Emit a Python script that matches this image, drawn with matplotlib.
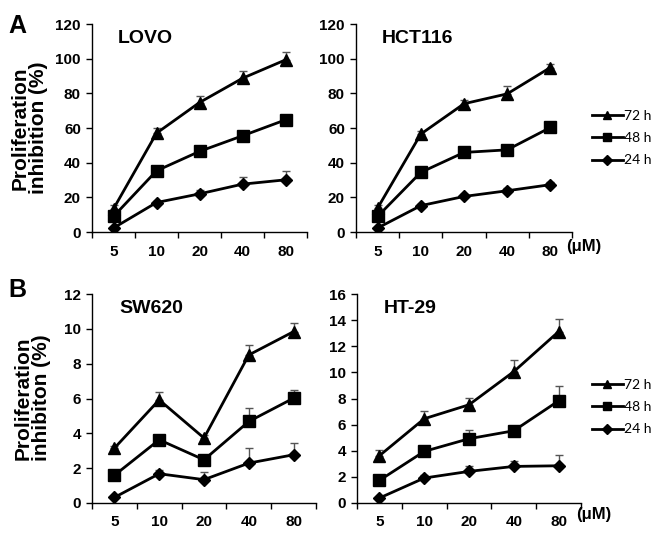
"""
Proliferation inhibition of four colorectal cancer cell lines
after 24, 48 and 72 h treatment.
"""

import numpy as np
import matplotlib.pyplot as plt
from matplotlib.lines import Line2D

plt.rcParams['font.family'] = ['Liberation Sans', 'DejaVu Sans']

doses = ['5', '10', '20', '40', '80']

# LOVO
lovo_72 = [13.4, 57.0, 74.7, 88.7, 99.3]
lovo_72_err = [2.0, 3.0, 3.5, 4.0, 4.5]
lovo_48 = [9.0, 35.3, 46.5, 55.5, 64.7]
lovo_48_err = [1.0, 1.5, 1.5, 1.5, 1.5]
lovo_24 = [2.3, 17.0, 22.0, 27.6, 30.1]
lovo_24_err = [0.5, 1.0, 2.5, 4.0, 5.0]

# HCT116
hct_72 = [13.8, 56.5, 74.0, 79.7, 94.9]
hct_72_err = [2.0, 2.0, 2.0, 4.5, 2.0]
hct_48 = [9.0, 34.4, 45.9, 47.4, 60.3]
hct_48_err = [1.0, 1.0, 1.0, 1.0, 1.0]
hct_24 = [2.3, 15.2, 20.5, 23.8, 27.3]
hct_24_err = [0.5, 1.0, 1.5, 1.5, 1.5]

# SW620
sw_72 = [3.15, 5.92, 3.73, 8.5, 9.84]
sw_72_err = [0.15, 0.45, 0.15, 0.6, 0.5]
sw_48 = [1.59, 3.63, 2.48, 4.68, 6.02]
sw_48_err = [0.1, 0.2, 0.1, 0.8, 0.45]
sw_24 = [0.32, 1.68, 1.34, 2.29, 2.77]
sw_24_err = [0.05, 0.2, 0.45, 0.85, 0.65]

# HT-29
ht_72 = [3.62, 6.45, 7.52, 10.06, 13.12]
ht_72_err = [0.45, 0.6, 0.5, 0.9, 1.0]
ht_48 = [1.73, 3.95, 4.92, 5.53, 7.82]
ht_48_err = [0.1, 0.2, 0.7, 0.2, 1.1]
ht_24 = [0.38, 1.91, 2.42, 2.8, 2.85]
ht_24_err = [0.1, 0.2, 0.4, 0.4, 0.8]

times = ['72 h', '48 h', '24 h']
markers = ['^', 's', 'D']
msizes = [8.5, 8.5, 6.5]


def draw_panel(ax, title, series, errors, ymax, ystep):
    x = np.arange(len(doses)) + 0.5
    for vals, err, mk, ms in zip(series, errors, markers, msizes):
        ax.errorbar(x, vals, yerr=[np.zeros(len(err)), err], fmt='none',
                    ecolor='#555555', elinewidth=1, capsize=3, capthick=1)
        ax.plot(x, vals, color='black', lw=2, marker=mk, ms=ms)
    ax.set_xlim(0, len(doses))
    ax.set_ylim(0, ymax)
    ax.set_xticks(x)
    ax.set_xticklabels(doses)
    ax.set_xticks(np.arange(len(doses) + 1), minor=True)
    ax.tick_params(axis='x', which='major', length=0, pad=9)
    ax.tick_params(axis='x', which='minor', length=4, width=1)
    ax.set_yticks(np.arange(0, ymax + 0.01, ystep))
    ax.tick_params(axis='y', length=4, width=1, pad=4)
    for lab in ax.get_xticklabels() + ax.get_yticklabels():
        lab.set_fontweight('bold')
        lab.set_fontsize(11)
    for side in ['top', 'right']:
        ax.spines[side].set_visible(False)
    ax.spines['left'].set_linewidth(1)
    ax.spines['bottom'].set_linewidth(1)
    ax.text(0.12, 0.93, title, transform=ax.transAxes, fontsize=14,
            fontweight='bold', va='center', ha='left')


fig = plt.figure(figsize=(6.6, 5.35), dpi=100)
W, H = 660.0, 535.0


def add_axes(x0, x1, ytop, ybot):
    return fig.add_axes([x0 / W, 1 - ybot / H, (x1 - x0) / W, (ybot - ytop) / H])


ax_tl = add_axes(92, 307, 24, 232)
ax_tr = add_axes(356, 572, 24, 232)
ax_bl = add_axes(92, 316, 294, 503)
ax_br = add_axes(357, 581, 294, 503)

draw_panel(ax_tl, 'LOVO', [lovo_72, lovo_48, lovo_24],
           [lovo_72_err, lovo_48_err, lovo_24_err], 120, 20)
draw_panel(ax_tr, 'HCT116', [hct_72, hct_48, hct_24],
           [hct_72_err, hct_48_err, hct_24_err], 120, 20)
draw_panel(ax_bl, 'SW620', [sw_72, sw_48, sw_24],
           [sw_72_err, sw_48_err, sw_24_err], 12, 2)
draw_panel(ax_br, 'HT-29', [ht_72, ht_48, ht_24],
           [ht_72_err, ht_48_err, ht_24_err], 16, 2)

# y labels
fig.text(29 / W, 1 - 128 / H, 'Proliferation\ninhibition (%)', fontsize=15,
         fontweight='bold', rotation=90, ha='center', va='center',
         multialignment='center', linespacing=0.95)
fig.text(32 / W, 1 - 398 / H, 'Proliferation\ninhibiton (%)', fontsize=15,
         fontweight='bold', rotation=90, ha='center', va='center',
         multialignment='center', linespacing=0.95)

# unit label next to the right-hand x axes
fig.text(566 / W, 1 - 246 / H, '(μM)', fontsize=12, fontweight='bold',
         va='center', ha='left')
fig.text(576 / W, 1 - 515 / H, '(μM)', fontsize=12, fontweight='bold',
         va='center', ha='left')

# panel letters
fig.text(8 / W, 1 - 26 / H, 'A', fontsize=18, fontweight='bold', va='center')
fig.text(8 / W, 1 - 290 / H, 'B', fontsize=18, fontweight='bold', va='center')

handles = [Line2D([], [], color='black', lw=2, marker=mk, ms=ms * 0.75)
           for mk, ms in zip(markers, msizes)]
for ycen in [138, 407]:
    fig.legend(handles, times, loc='center left',
               bbox_to_anchor=(585 / W, 1 - ycen / H), frameon=False,
               prop={'family': 'Lato', 'size': 10}, handlelength=2.2,
               handletextpad=0.1, labelspacing=0.75, borderpad=0)

fig.savefig('out.png', dpi=100)
